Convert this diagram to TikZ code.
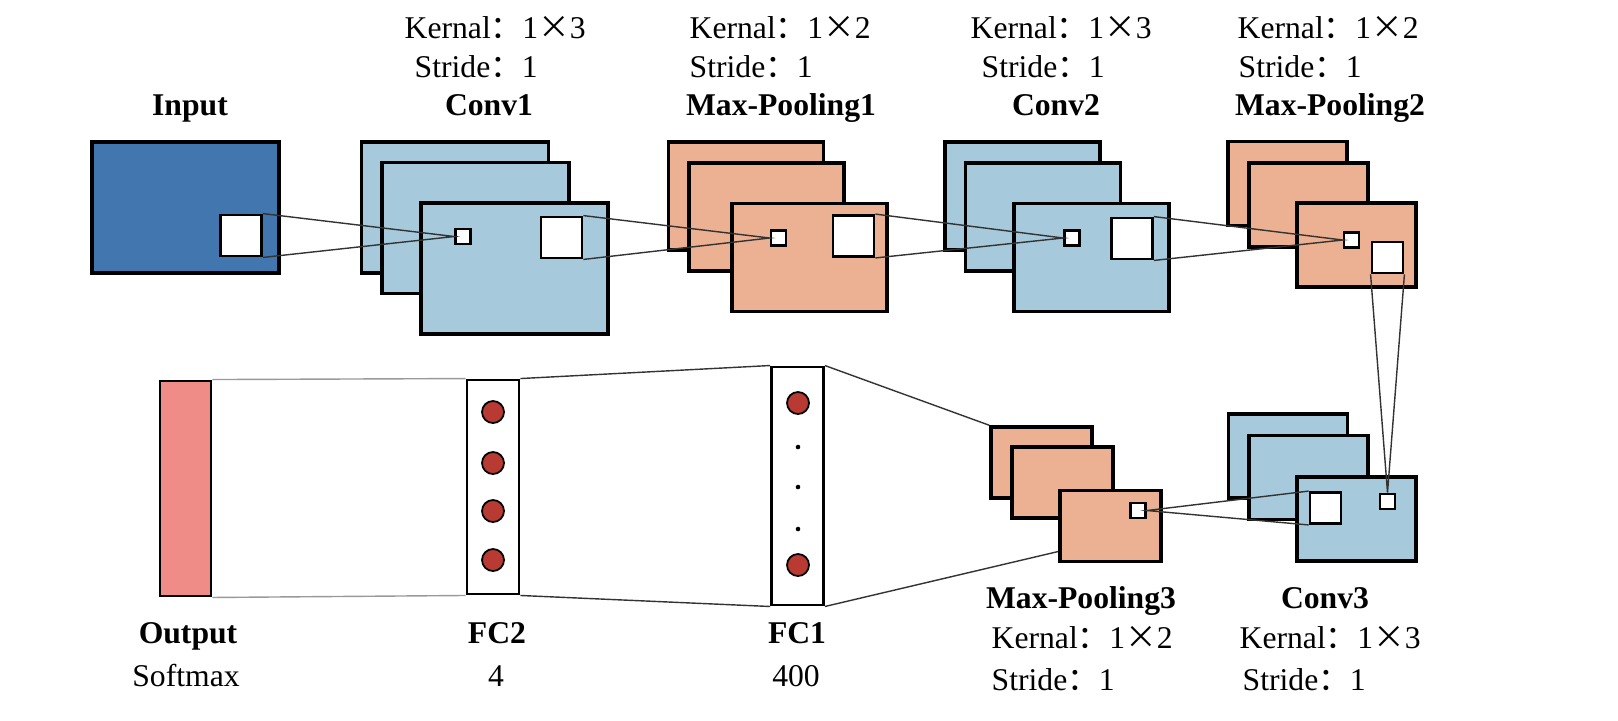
\documentclass[tikz,border=0pt]{standalone}
\usepackage{fontspec}
\setmainfont{Liberation Serif}
\newfontfamily\cjk{Noto Sans CJK SC}
\definecolor{inblue}{RGB}{66,118,174}
\definecolor{convblue}{RGB}{166,201,220}
\definecolor{poolorange}{RGB}{236,176,146}
\definecolor{outred}{RGB}{240,140,136}
\definecolor{neuron}{RGB}{184,58,50}
\newcommand{\kernaltxt}[1]{Kernal{\cjk ：}1{\cjk ×}#1}
\newcommand{\stridetxt}{Stride{\cjk ：}1}

\begin{document}
\begin{tikzpicture}[x=0.01cm, y=-0.01cm, font=\fontsize{9pt}{11pt}\selectfont]
	\tikzstyle{fmap} = [draw, line width=1pt, rectangle, inner sep=0pt]
	\tikzstyle{mapL} = [fmap, minimum width=1.87cm, minimum height=1.31cm]
	\tikzstyle{mapM} = [fmap, minimum width=1.55cm, minimum height=1.08cm]
	\tikzstyle{mapS} = [fmap, minimum width=1.19cm, minimum height=0.84cm]
	\tikzstyle{mapXS} = [fmap, minimum width=1.01cm, minimum height=0.71cm]
	\tikzstyle{win} = [draw, line width=0.8pt, fill=white, inner sep=0pt]
	\tikzstyle{winL} = [win, minimum size=0.41cm]
	\tikzstyle{winM} = [win, minimum size=0.31cm]
	\tikzstyle{winS} = [win, minimum size=0.15cm]
	\tikzstyle{fc} = [draw, line width=0.8pt, fill=white, inner sep=0pt, minimum width=0.52cm]
	\tikzstyle{unit} = [circle, draw, line width=0.5pt, fill=neuron, inner sep=0pt, minimum size=0.22cm]
	\tikzstyle{dot} = [circle, fill, inner sep=0pt, minimum size=1.3pt]
	\tikzstyle{link} = [black!80, line width=0.4pt]
	\tikzstyle{title} = [font=\fontsize{9pt}{11pt}\selectfont\bfseries, anchor=base]
	\tikzstyle{param} = [anchor=base west, inner sep=0pt]

	\useasboundingbox (0,0) rectangle (1618,720);

	\node[mapL, fill=inblue] (in) at (185.5,207.5) {};
	\node[winL] (in-w) at (241,235.5) {};

	\node[mapL, fill=convblue] (c1a) at (455,207.5) {};
	\node[mapL, fill=convblue] (c1b) at (475.5,228) {};
	\node[mapL, fill=convblue] (c1c) at (514.5,268.5) {};
	\node[winS] (c1-s) at (463,236.5) {};
	\node[winL] (c1-l) at (561.5,237.5) {};

	\node[mapM, fill=poolorange] (p1a) at (746,196) {};
	\node[mapM, fill=poolorange] (p1b) at (766.5,217) {};
	\node[mapM, fill=poolorange] (p1c) at (809.5,257.5) {};
	\node[winS] (p1-s) at (778.5,238) {};
	\node[winL] (p1-l) at (853.5,236) {};

	\node[mapM, fill=convblue] (c2a) at (1022.5,196) {};
	\node[mapM, fill=convblue] (c2b) at (1043,217) {};
	\node[mapM, fill=convblue] (c2c) at (1091.5,257.5) {};
	\node[winS] (c2-s) at (1072,238) {};
	\node[winL] (c2-l) at (1132,238.5) {};

	\node[mapS, fill=poolorange] (p2a) at (1287.5,183.5) {};
	\node[mapS, fill=poolorange] (p2b) at (1308.5,205) {};
	\node[mapS, fill=poolorange] (p2c) at (1356.5,245) {};
	\node[winS] (p2-s) at (1351.5,240) {};
	\node[winM] (p2-l) at (1387.5,257.5) {};

	\node[mapS, fill=convblue] (c3a) at (1288,456) {};
	\node[mapS, fill=convblue] (c3b) at (1308.5,477.5) {};
	\node[mapS, fill=convblue] (c3c) at (1356.5,519) {};
	\node[winM] (c3-l) at (1325.5,508) {};
	\node[winS] (c3-s) at (1387.5,501.5) {};

	\node[mapXS, fill=poolorange] (p3a) at (1041.5,462.5) {};
	\node[mapXS, fill=poolorange] (p3b) at (1062.5,482.5) {};
	\node[mapXS, fill=poolorange] (p3c) at (1110.5,526) {};
	\node[winS] (p3-s) at (1138,510.5) {};

	\node[fc, minimum height=2.38cm] (fc1) at (797.5,486) {};
	\node[fc, minimum height=2.14cm] (fc2) at (493,487) {};
	\node[fc, fill=outred, minimum width=0.51cm, minimum height=2.15cm] (out) at (185.5,488.5) {};

	\foreach \y [count=\i] in {412,463,511,560}
		\node[unit] (u2-\i) at (493,\y) {};
	\node[unit] (u1-1) at (798,403) {};
	\node[unit] (u1-2) at (798,565) {};
	\foreach \y [count=\i] in {447,487,529}
		\node[dot] (d1-\i) at (798,\y) {};

	\draw[link] (in-w.north east) -- (c1-s.west) -- (in-w.south east);
	\draw[link] (c1-l.north east) -- (p1-s.west) -- (c1-l.south east);
	\draw[link] (p1-l.north east) -- (c2-s.west) -- (p1-l.south east);
	\draw[link] (c2-l.north east) -- (p2-s.west) -- (c2-l.south east);
	\draw[link] (p2-l.south west) -- (c3-s.north) -- (p2-l.south east);
	\draw[link] (c3-l.north west) -- (p3-s.east) -- (c3-l.south west);
	\draw[link] (fc1.north east) -- (p3a.north west);
	\draw[link] (fc1.south east) -- (p3c.206);
	\draw[link] (fc2.north east) -- (fc1.north west);
	\draw[link] (fc2.south east) -- (fc1.south west);
	\draw[link, black!40] (out.north east) -- (fc2.north west);
	\draw[link, black!40] (out.south east) -- (fc2.south west);

	\node[title] (t-in) at (190,115) {Input};
	\node[title] (t-c1) at (489,115) {Conv1};
	\node[param] (k-c1) at (404,38) {\kernaltxt{3}};
	\node[param] (s-c1) at (414,77) {\stridetxt};
	\node[title] (t-p1) at (781,115) {Max-Pooling1};
	\node[param] (k-p1) at (689,38) {\kernaltxt{2}};
	\node[param] (s-p1) at (689,77) {\stridetxt};
	\node[title] (t-c2) at (1056,115) {Conv2};
	\node[param] (k-c2) at (970,38) {\kernaltxt{3}};
	\node[param] (s-c2) at (981,77) {\stridetxt};
	\node[title] (t-p2) at (1330,115) {Max-Pooling2};
	\node[param] (k-p2) at (1237,38) {\kernaltxt{2}};
	\node[param] (s-p2) at (1238,77) {\stridetxt};

	\node[title] (t-out) at (188,643) {Output};
	\node[anchor=base] (s-out) at (186,686) {Softmax};
	\node[title] (t-fc2) at (497,643) {FC2};
	\node[anchor=base] (n-fc2) at (496,686) {4};
	\node[title] (t-fc1) at (797,643) {FC1};
	\node[anchor=base] (n-fc1) at (796,686) {400};
	\node[title] (t-p3) at (1081,608) {Max-Pooling3};
	\node[param] (k-p3) at (991,648) {\kernaltxt{2}};
	\node[param] (s-p3) at (991,690) {\stridetxt};
	\node[title] (t-c3) at (1325,608) {Conv3};
	\node[param] (k-c3) at (1239,648) {\kernaltxt{3}};
	\node[param] (s-c3) at (1242,690) {\stridetxt};
\end{tikzpicture}
\end{document}
